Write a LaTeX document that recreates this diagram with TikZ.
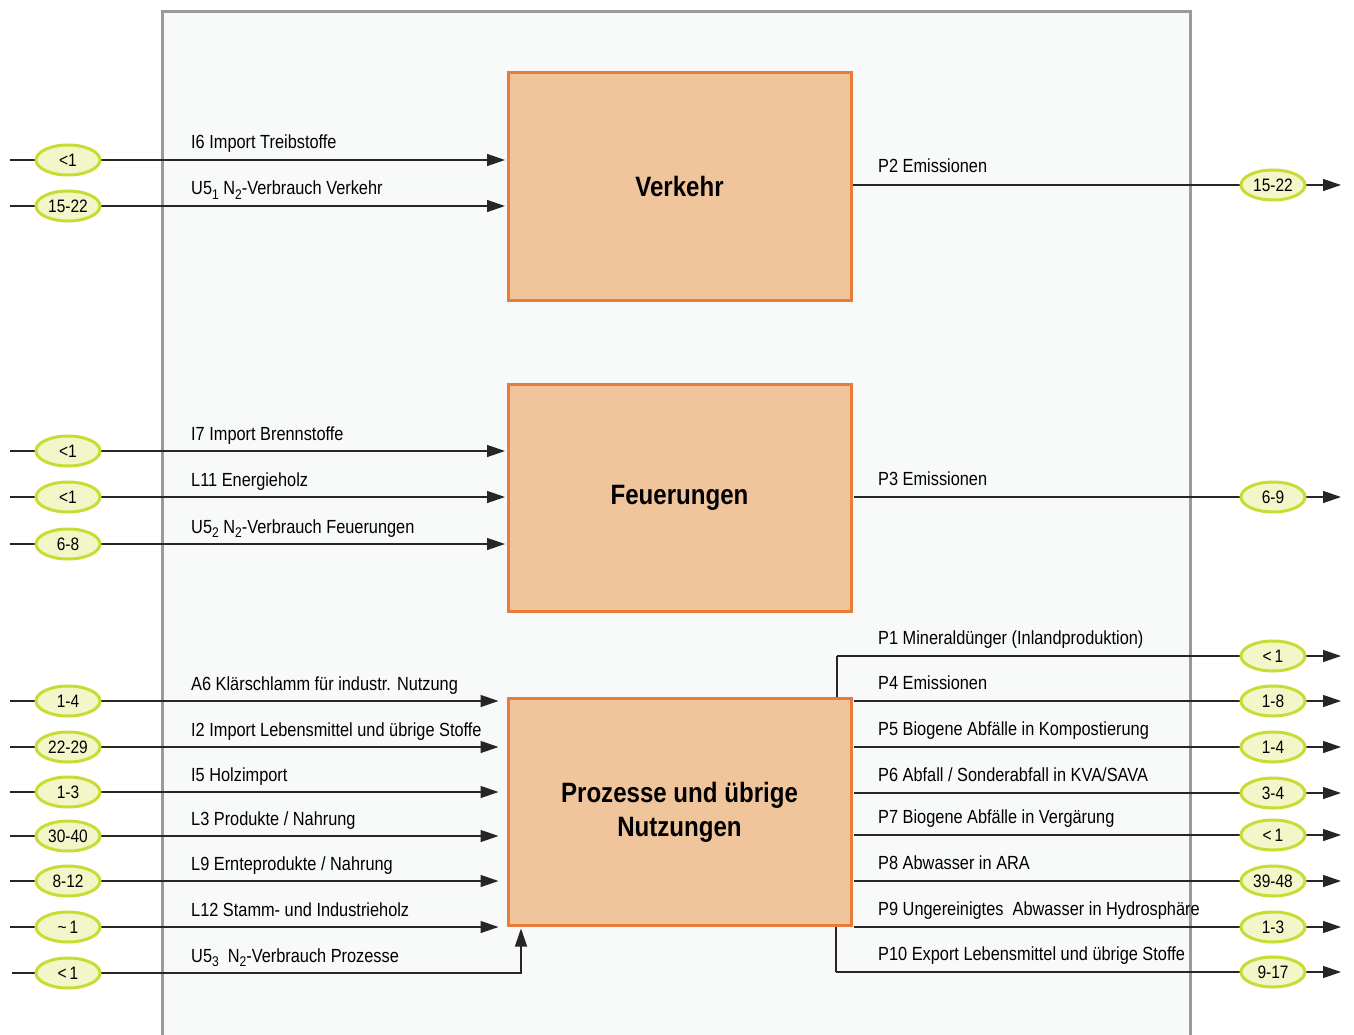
\documentclass[tikz,border=0pt]{standalone}
\usepackage{fontspec}
\setmainfont[FakeStretch=0.86]{Liberation Sans}
\usetikzlibrary{arrows.meta,shapes.geometric}
\definecolor{boxfill}{HTML}{F1C59C}
\definecolor{boxdraw}{HTML}{E97B3C}
\definecolor{valfill}{HTML}{F3F6C8}
\definecolor{valdraw}{HTML}{C8DC34}
\definecolor{panelfill}{HTML}{F8F9F9}
\definecolor{paneldraw}{HTML}{9A9A9A}
\definecolor{flowc}{HTML}{262626}
\newcommand\lsub[1]{\raisebox{-0.45ex}{\fontsize{14}{14}\selectfont #1}}
\newcommand\inrow[6]{% name, y, value, label, box, shorten
  \coordinate (#1s) at (10,#2);
  \draw[flow,shorten >=#6] (#1s) -- (#1s -| #5.west);
  \node[val] (#1) at (68,#2) {#3};
  \node[lbl] (#1t) at (191,#2-11) {#4};}
\newcommand\outrow[5]{% name, y, value, label, start coordinate
  \coordinate (#1e) at (1341,#2);
  \draw[flow] (#5) -- (#1e);
  \node[val] (#1) at (1273,#2) {#3};
  \node[lbl] (#1t) at (878,#2-12) {#4};}
\begin{document}
\begin{tikzpicture}[x=1pt,y=-1pt,
  flow/.style={draw=flowc,line width=1.3pt,-{Triangle[length=18pt,width=12pt]}},
  val/.style={ellipse,draw=valdraw,fill=valfill,line width=3pt,minimum width=64pt,minimum height=30pt,inner sep=0pt,font=\fontsize{18}{18}\selectfont},
  lbl/.style={anchor=base west,inner sep=0pt,font=\fontsize{19}{19}\selectfont},
  proc/.style={draw=boxdraw,fill=boxfill,line width=3pt,minimum width=343pt,minimum height=227pt,inner sep=0pt,align=center,font=\fontsize{28}{34}\selectfont\bfseries}]
\useasboundingbox[fill=white] (0,0) rectangle (1354,1035);
\fill[panelfill] (162,12) rectangle (1190,1035);
\draw[paneldraw,line width=3pt] (162,1035) -- (162,12) -- (1190,12) -- (1190,1035);
% process boxes
\node[proc] (vk) at (679.5,186.5) {Verkehr};
\node[proc] (fe) at (679.5,498) {Feuerungen};
\node[proc] (pr) at (679.5,812) {Prozesse und übrige\\Nutzungen};
% inputs Verkehr
\inrow{a1}{160}{<1}{I6 Import Treibstoffe}{vk}{1.5pt}
\inrow{a2}{206}{15-22}{U5\lsub{1} N\lsub{2}-Verbrauch Verkehr}{vk}{1.5pt}
% inputs Feuerungen
\inrow{b1}{451}{<1}{I7 Import Brennstoffe}{fe}{1.5pt}
\inrow{b2}{497}{<1}{L11 Energieholz}{fe}{1.5pt}
\inrow{b3}{544}{6-8}{U5\lsub{2} N\lsub{2}-Verbrauch Feuerungen}{fe}{1.5pt}
% inputs Prozesse
\inrow{c1}{701}{1-4}{A6 Klärschlamm für industr. Nutzung}{pr}{8pt}
\inrow{c2}{747}{22-29}{I2 Import Lebensmittel und übrige Stoffe}{pr}{8pt}
\inrow{c3}{792}{1-3}{I5 Holzimport}{pr}{8pt}
\inrow{c4}{836}{30-40}{L3 Produkte / Nahrung}{pr}{8pt}
\inrow{c5}{881}{8-12}{L9 Ernteprodukte / Nahrung}{pr}{8pt}
\inrow{c6}{927}{\textasciitilde\,1}{L12 Stamm- und Industrieholz}{pr}{8pt}
% U5_3 from below
\coordinate (c7s) at (12,973);
\coordinate (c7k) at (521,973);
\draw[flow,shorten >=1.5pt] (c7s) -- (c7k) -- (c7k |- pr.south);
\node[val] (c7) at (68,973) {<\,1};
\node[lbl] (c7t) at (191,962) {U5\lsub{3}\ \ N\lsub{2}-Verbrauch Prozesse};
% outputs
\coordinate (p2s) at (vk.east |- 0,185);
\outrow{r2}{185}{15-22}{P2 Emissionen}{p2s}
\coordinate (p3s) at (854,497);
\outrow{r3}{497}{6-9}{P3 Emissionen}{p3s}
\coordinate (p1k) at (837,656);
\draw[draw=flowc,line width=1.3pt] (p1k |- pr.north) -- (p1k);
\outrow{r1}{656}{<\,1}{P1 Mineraldünger (Inlandproduktion)}{p1k}
\coordinate (p4s) at (854,701);
\outrow{r4}{701}{1-8}{P4 Emissionen}{p4s}
\coordinate (p5s) at (854,747);
\outrow{r5}{747}{1-4}{P5 Biogene Abfälle in Kompostierung}{p5s}
\coordinate (p6s) at (854,793);
\outrow{r6}{793}{3-4}{P6 Abfall / Sonderabfall in KVA/SAVA}{p6s}
\coordinate (p7s) at (854,835);
\outrow{r7}{835}{<\,1}{P7 Biogene Abfälle in Vergärung}{p7s}
\coordinate (p8s) at (854,881);
\outrow{r8}{881}{39-48}{P8 Abwasser in ARA}{p8s}
\coordinate (p9s) at (854,927);
\outrow{r9}{927}{1-3}{P9 Ungereinigtes\ \ Abwasser in Hydrosphäre}{p9s}
\coordinate (p10k) at (836,972);
\draw[draw=flowc,line width=1.3pt] (p10k |- pr.south) -- (p10k);
\outrow{r10}{972}{9-17}{P10 Export Lebensmittel und übrige Stoffe}{p10k}
\end{tikzpicture}
\end{document}
